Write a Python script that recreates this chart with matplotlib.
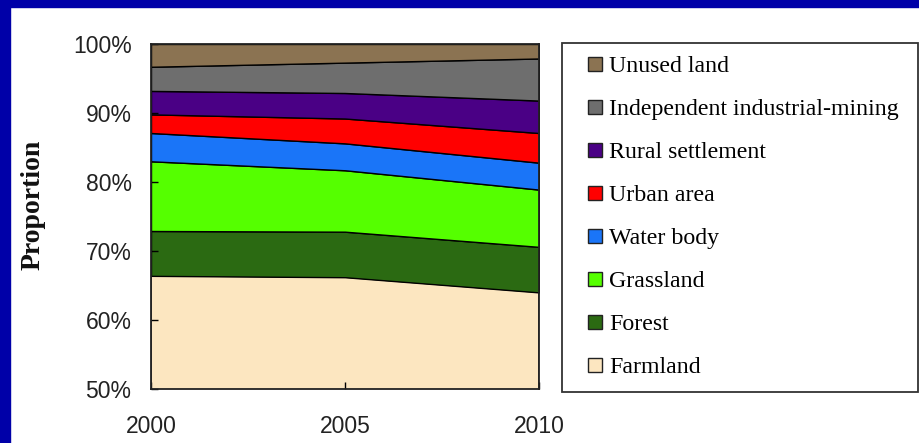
import matplotlib
matplotlib.use("Agg")
import matplotlib.pyplot as plt
from matplotlib.patches import Rectangle, Patch
from matplotlib.legend_handler import HandlerPatch
from matplotlib.ticker import FuncFormatter

# years and land-use shares (%), bottom to top of the stack
years = [2000, 2005, 2010]
categories = ["Farmland", "Forest", "Grassland", "Water body", "Urban area",
              "Rural settlement", "Independent industrial-mining", "Unused land"]
farmland = [66.4, 66.2, 64.0]
forest = [6.5, 6.6, 6.6]
grassland = [10.1, 8.9, 8.3]
water = [4.1, 3.9, 3.9]
urban = [2.7, 3.6, 4.3]
rural = [3.4, 3.7, 4.7]
industrial = [3.5, 4.4, 6.1]
unused = [3.3, 2.7, 2.1]
colors = ["#FCE6C0", "#2B6A12", "#55FF00", "#1A75F8", "#FF0000",
          "#4A0085", "#6E6E6E", "#8B7352"]

W, H = 919, 443
fig = plt.figure(figsize=(W / 100, H / 100), dpi=100)
fig.patch.set_facecolor("white")

# blue slide border (top and left)
blue = "#0000A8"
fig.patches.append(Rectangle((0, 1 - 7 / H), 1, 7 / H, transform=fig.transFigure,
                             color=blue, zorder=0))
fig.patches.append(Rectangle((0, 0), 10 / W, 1, transform=fig.transFigure,
                             color=blue, zorder=0))

ax = fig.add_axes([151 / W, (H - 389) / H, (539 - 151) / W, (389 - 44) / H])
series = [farmland, forest, grassland, water, urban, rural, industrial, unused]
ax.stackplot(years, series, colors=colors, edgecolor="black", linewidth=1.0)

ax.set_xlim(2000, 2010)
ax.set_ylim(50, 100)
ax.set_xticks(years)
ax.set_yticks([50, 60, 70, 80, 90, 100])
ax.yaxis.set_major_formatter(FuncFormatter(lambda v, p: "%d%%" % v))
for s in ax.spines.values():
    s.set_linewidth(1.3)
    s.set_color("#222222")
ax.tick_params(axis="y", direction="in", length=5, width=1, pad=14,
               labelsize=16.5, labelcolor="#222222")
ax.tick_params(axis="x", direction="in", length=5, width=1, pad=19,
               labelsize=16.5, labelcolor="#222222")
for lab in ax.get_xticklabels() + ax.get_yticklabels():
    lab.set_family("Liberation Sans")

fig.text(33 / W, 1 - 205 / H, "Proportion", rotation=90, ha="center", va="center",
         family="Liberation Serif", fontsize=20, fontweight="bold", color="#111111")


# legend squares sit a bit to the right inside their handle box
def square(legend, orig_handle, xdescent, ydescent, width, height, fontsize):
    sq = 0.58 * fontsize
    return Rectangle((width - sq - xdescent, (height - sq) / 2 - ydescent), sq, sq)


handles = [Patch(facecolor=c, edgecolor="#222222", linewidth=1.0) for c in colors]
leg = ax.legend(handles[::-1], categories[::-1],
                loc="upper left", mode="expand", borderaxespad=0,
                bbox_to_anchor=(562 / W, 0, (918 - 562) / W, (H - 43) / H),
                bbox_transform=fig.transFigure,
                prop={"family": "Liberation Serif", "size": 17.2},
                handler_map={Patch: HandlerPatch(patch_func=square)},
                handlelength=1.1, handleheight=0.58, handletextpad=0.3,
                labelspacing=0.92, borderpad=0.56, fancybox=False,
                frameon=True, framealpha=1, edgecolor="#333333")
leg.get_frame().set_linewidth(1.3)

fig.savefig("out.png", dpi=100, facecolor=fig.get_facecolor())
